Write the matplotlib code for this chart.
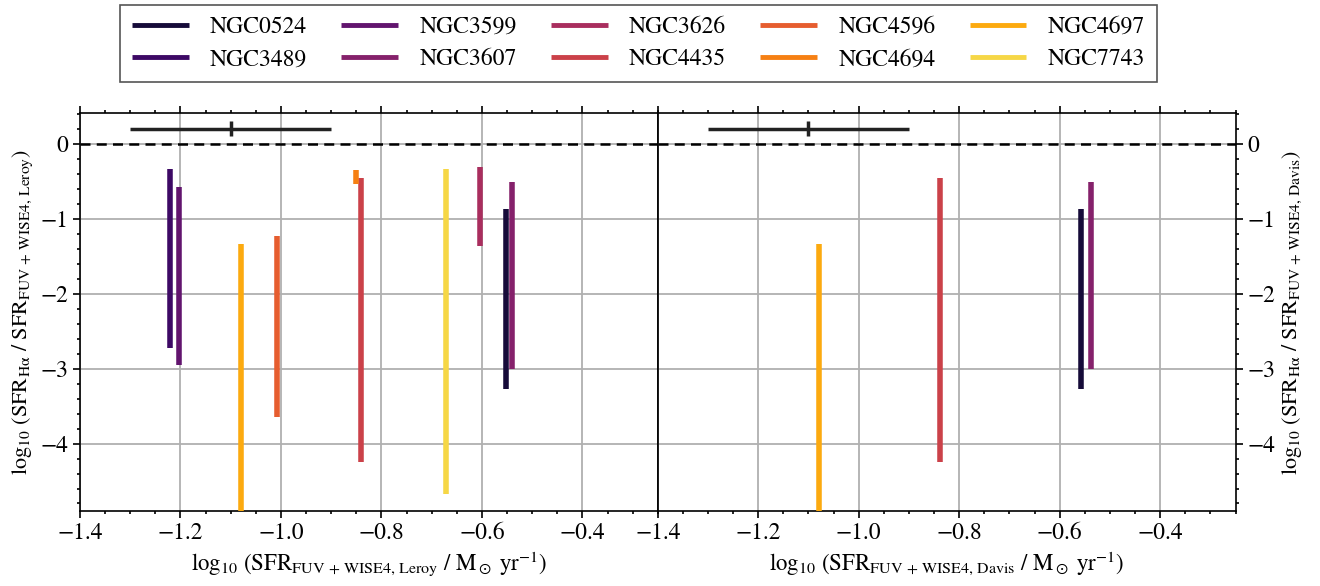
import matplotlib
matplotlib.use('Agg')
import matplotlib.pyplot as plt
import numpy as np
from matplotlib.ticker import MultipleLocator

plt.rcParams['font.family'] = ['STIXGeneral', 'DejaVu Serif']
plt.rcParams['mathtext.fontset'] = 'stix'

galaxies = ['NGC0524', 'NGC3489', 'NGC3599', 'NGC3607', 'NGC3626',
            'NGC4435', 'NGC4596', 'NGC4694', 'NGC4697', 'NGC7743']
# x position and extent of the ratio range for each galaxy
sfr_leroy = [-0.552, -1.22, -1.202, -0.54, -0.603,
             -0.84, -1.008, -0.85, -1.079, -0.671]
ratio_top = [-0.87, -0.33, -0.58, -0.51, -0.31,
             -0.457, -1.23, -0.35, -1.34, -0.337]
ratio_bottom = [-3.27, -2.73, -2.95, -3.01, -1.37,
                -4.25, -3.64, -0.53, -5.3, -4.67]
# galaxies with Davis SFR
davis_galaxies = ['NGC0524', 'NGC3607', 'NGC4435', 'NGC4697']
sfr_davis = [-0.557, -0.538, -0.839, -1.079]

err_x, err_y = -1.1, 0.2
err_xsize, err_ysize = 0.2, 0.1

colors = plt.cm.inferno(np.linspace(0.1, 0.9, len(galaxies)))

fig, (ax1, ax2) = plt.subplots(1, 2, figsize=(13.2, 5.86), dpi=100,
                               sharey=True)
fig.subplots_adjust(left=0.0606, right=0.936, top=0.807, bottom=0.128,
                    wspace=0)

for i, g in enumerate(galaxies):
    ax1.vlines(sfr_leroy[i], ratio_bottom[i], ratio_top[i], color=colors[i],
               lw=4, label=g, zorder=3)
    if g in davis_galaxies:
        xd = sfr_davis[davis_galaxies.index(g)]
        ax2.vlines(xd, ratio_bottom[i], ratio_top[i], color=colors[i],
                   lw=4, zorder=3)

for ax in (ax1, ax2):
    ax.errorbar(err_x, err_y, xerr=err_xsize, yerr=err_ysize, color='#222222',
                lw=2.5, capsize=0, zorder=4)
    ax.axhline(0, color='k', ls=(0, (4, 2.5)), lw=1.8, zorder=2)
    ax.set_xlim(-1.4, -0.25)
    ax.set_ylim(-4.9, 0.41)
    ax.grid(True, color='#b0b0b0', lw=1.3)
    ax.set_axisbelow(True)
    ax.xaxis.set_major_locator(MultipleLocator(0.2))
    ax.xaxis.set_minor_locator(MultipleLocator(0.05))
    ax.yaxis.set_major_locator(MultipleLocator(1))
    ax.yaxis.set_minor_locator(MultipleLocator(0.2))
    ax.tick_params(which='both', labelsize=17, width=1.2)
    ax.tick_params(which='major', length=5)
    ax.tick_params(which='minor', length=2.5)
    for s in ax.spines.values():
        s.set_linewidth(1.2)

ax1.tick_params(which='both', top=True, right=False, left=True)
ax2.tick_params(which='both', top=True, right=True, left=False,
                labelright=True, labelleft=False)

ax1.set_xlabel(r'$\log_{10}\,(\mathrm{SFR}_{\mathrm{FUV\,+\,WISE4,\,Leroy}}'
               r'\ /\ \mathrm{M}_\odot\ \mathrm{yr}^{-1})$', fontsize=16.5)
ax2.set_xlabel(r'$\log_{10}\,(\mathrm{SFR}_{\mathrm{FUV\,+\,WISE4,\,Davis}}'
               r'\ /\ \mathrm{M}_\odot\ \mathrm{yr}^{-1})$', fontsize=16.5)
ax1.set_ylabel(r'$\log_{10}\,(\mathrm{SFR}_{\mathrm{H\alpha}}\ /\ '
               r'\mathrm{SFR}_{\mathrm{FUV\,+\,WISE4,\,Leroy}})$', fontsize=16)
ax2.yaxis.set_label_position('right')
ax2.set_ylabel(r'$\log_{10}\,(\mathrm{SFR}_{\mathrm{H\alpha}}\ /\ '
               r'\mathrm{SFR}_{\mathrm{FUV\,+\,WISE4,\,Davis}})$', fontsize=16)

handles, labels = ax1.get_legend_handles_labels()
leg = fig.legend(handles, labels, loc='upper center', ncol=5,
                 bbox_to_anchor=(0.4837, 1.012), fontsize=17, fancybox=False,
                 edgecolor='#555555', framealpha=1, handlelength=2.4,
                 columnspacing=1.45, borderpad=0.5, labelspacing=0.45,
                 handletextpad=0.9)
leg.get_frame().set_linewidth(1.2)
for h in leg.legend_handles:
    h.set_linewidth(3.5)

fig.savefig('out.png', dpi=100)
